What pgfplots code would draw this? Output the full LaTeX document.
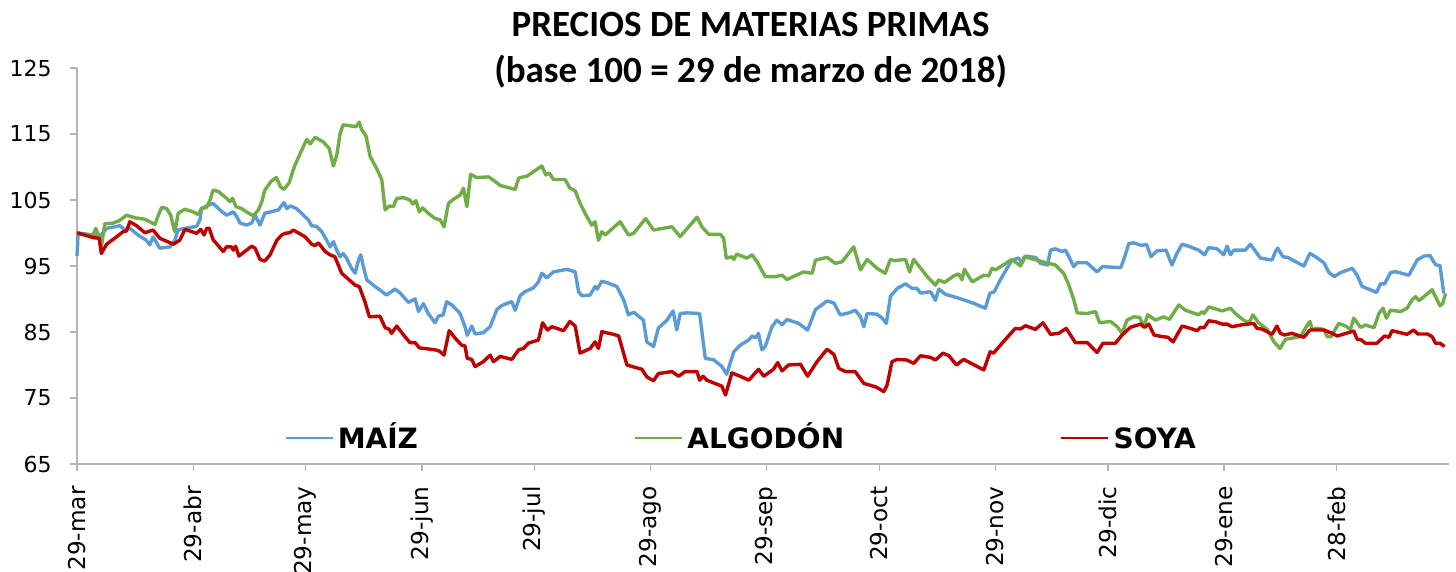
\documentclass[border=0pt]{standalone}
\usepackage{pgfplots}
\usepackage{pgfplotstable}
\pgfplotsset{compat=1.18}
\usepackage{fontspec}
\setmainfont{DejaVu Sans}
\newfontfamily\titlefont{Carlito}
\definecolor{cmaiz}{HTML}{5B9BD5}
\definecolor{calg}{HTML}{70AD47}
\definecolor{csoya}{HTML}{C00000}
\definecolor{caxis}{HTML}{B4B4B4}

\pgfplotstableread{
d v
0 96.5
0.3 100.0
4.3 99.7
6.1 99.4
7.9 100.7
11.4 101.1
12.8 100.5
14.1 100.7
16.3 99.7
18.5 98.9
19.4 98.2
20.3 99.4
22.1 97.7
24.8 97.9
26.1 98.9
27.0 100.5
28.8 100.7
31.9 101.0
32.8 102.0
33.2 103.7
35.0 104.2
36.3 104.5
38.1 103.5
39.9 102.7
41.7 103.2
42.6 102.5
43.5 101.5
45.2 101.2
46.6 101.5
47.5 102.7
48.8 101.2
50.1 103.0
52.4 103.3
53.7 103.5
55.2 104.6
56.0 103.7
56.9 104.1
58.6 103.7
60.4 102.7
61.7 102.0
62.6 101.1
63.9 101.0
65.3 100.2
66.6 98.9
67.5 97.9
68.4 98.7
69.3 97.4
70.2 96.4
71.0 96.9
71.9 96.2
73.3 94.6
74.2 93.9
75.1 95.9
75.7 96.7
76.4 94.9
77.3 92.9
79.5 91.9
82.6 90.6
84.8 91.5
86.2 90.9
88.4 89.5
90.2 90.0
91.1 88.1
92.4 89.3
93.7 87.8
95.5 86.4
96.4 87.4
97.7 87.6
98.6 89.6
100.0 89.1
102.2 87.8
103.5 85.8
104.1 84.5
105.3 85.9
106.2 84.7
108.4 84.9
110.2 85.8
112.0 88.4
113.3 89.0
114.6 89.3
116.0 89.6
116.9 88.3
118.2 90.5
119.5 91.1
121.8 91.7
123.1 92.6
124.0 93.9
125.3 93.2
127.1 94.1
130.7 94.5
132.9 94.1
133.8 91.1
134.7 90.5
136.9 90.6
138.2 91.9
138.8 91.5
140.0 92.7
141.8 92.4
144.0 91.9
145.8 89.9
147.1 87.6
148.5 88.0
151.1 86.8
152.0 83.5
153.8 82.8
155.1 85.6
157.4 86.8
159.0 88.2
160.0 85.3
160.9 87.8
162.7 87.9
166.1 87.8
167.6 81.0
169.8 80.8
172.0 79.8
173.3 78.6
175.2 82.0
176.9 83.0
179.2 83.8
180.1 84.4
181.0 84.1
181.8 84.8
182.7 82.3
183.6 82.8
185.4 85.8
186.7 86.8
188.1 86.1
189.4 86.9
192.5 86.3
194.9 85.3
197.0 88.4
200.1 89.7
201.9 89.4
203.6 87.6
205.9 87.9
207.6 88.3
209.0 87.3
209.9 85.8
210.8 87.8
213.4 87.7
214.8 87.1
215.9 86.3
217.0 90.4
218.8 91.6
221.0 92.3
222.8 91.6
224.1 91.6
225.0 90.9
227.7 91.1
229.0 89.8
229.9 91.5
231.7 90.7
233.9 90.35
236.1 89.95
239.2 89.35
242.3 88.6
243.5 90.85
244.7 91.1
246.3 92.9
249.4 95.9
251.2 96.2
252.1 95.4
253.0 96.5
255.7 96.3
257.0 95.4
258.9 95.15
259.7 97.4
261.0 97.6
262.8 97.2
263.7 97.4
264.6 96.4
265.9 94.9
266.8 95.5
269.4 95.5
272.1 94.1
273.5 94.9
278.4 94.75
279.2 95.9
280.6 98.4
281.9 98.5
284.1 98.1
285.3 98.3
286.5 96.4
288.1 97.3
290.5 97.4
292.1 95.15
293.4 96.9
294.8 98.3
297.0 97.9
299.2 97.4
300.8 96.7
301.9 97.8
304.1 97.6
305.9 96.7
306.8 98.0
307.7 96.7
308.6 97.4
311.7 97.4
313.0 98.3
314.4 97.2
315.7 96.2
318.8 95.9
319.7 97.2
320.3 97.7
321.7 96.4
323.0 96.3
324.6 95.8
327.3 95.0
328.9 96.9
330.4 96.4
332.6 95.5
334.0 94.0
335.4 93.4
337.1 94.0
340.2 94.65
341.5 93.6
342.8 91.9
344.6 91.5
346.7 91.0
347.7 92.3
348.8 92.3
350.4 94.0
351.7 94.15
355.3 93.6
357.5 95.9
359.3 96.5
360.9 96.6
362.4 95.2
363.6 95.05
364.6 90.85
}\maiz

\pgfplotstableread{
d v
0 99.8
4.3 99.7
5.0 100.7
5.6 99.9
6.5 97.9
7.4 101.4
9.6 101.5
11.4 101.9
13.2 102.7
15.4 102.3
18.1 102.1
19.4 101.7
20.8 101.3
21.7 102.7
22.6 103.9
23.9 103.7
25.0 102.7
25.7 101.0
26.1 100.2
27.0 103.0
28.8 103.6
31.0 103.2
32.3 102.8
33.2 103.7
34.6 103.9
35.5 105.0
36.3 106.5
37.7 106.3
39.9 105.25
40.8 104.75
41.5 105.25
42.4 104.0
43.9 103.7
45.2 103.2
47.0 102.6
48.4 103.5
49.3 104.75
50.1 106.5
51.9 107.9
53.2 108.4
54.3 107.0
55.2 106.6
56.6 107.6
58.0 110.1
59.5 112.0
61.3 114.2
62.2 113.5
63.5 114.5
65.7 113.8
67.3 112.8
67.9 111.3
68.4 110.15
69.3 111.8
70.2 115.1
71.0 116.4
73.3 116.2
74.4 116.1
75.3 116.8
75.9 115.7
77.1 114.7
78.2 111.6
79.9 109.8
81.3 108.1
82.2 103.5
83.3 104.1
84.4 104.0
85.3 105.25
87.1 105.35
88.8 105.0
89.6 104.4
90.4 104.9
91.3 103.2
92.2 103.8
93.7 103.0
95.5 102.2
96.9 102.0
97.9 100.95
99.1 104.5
100.4 105.1
102.2 105.75
103.1 106.8
104.0 104.0
105.0 108.9
106.6 108.4
109.8 108.5
111.1 108.0
112.9 107.2
116.9 106.6
117.8 108.3
118.2 108.4
120.0 108.6
124.0 110.15
125.1 108.8
126.0 109.1
127.1 108.1
130.2 108.1
131.5 106.8
132.9 106.4
134.2 104.5
135.8 102.7
137.3 101.2
138.2 101.7
139.1 98.9
140.0 100.2
140.9 99.7
144.9 101.7
147.1 99.7
148.5 99.95
151.7 102.2
153.8 100.45
158.7 100.95
160.9 99.45
165.4 102.4
166.7 100.95
168.5 99.8
171.6 99.8
172.5 99.2
173.2 96.2
174.7 96.4
175.2 96.0
176.0 96.8
178.7 96.2
180.1 96.7
181.4 95.65
183.6 93.4
186.3 93.4
188.1 93.6
189.4 92.95
193.8 94.1
196.1 93.9
197.0 95.9
200.1 96.3
202.3 95.4
204.1 95.65
207.2 97.9
209.0 94.4
210.8 96.0
213.4 94.65
215.6 93.9
217.0 96.0
218.0 95.8
221.0 96.0
222.1 94.1
223.2 96.0
226.8 93.4
229.0 92.1
229.9 92.9
231.4 92.5
233.9 93.5
235.2 93.8
236.1 92.9
236.7 94.5
238.8 92.6
241.9 93.6
243.2 93.5
244.1 94.65
245.0 94.4
249.4 96.0
251.7 95.0
252.7 96.4
257.0 95.75
259.2 95.4
261.0 95.15
263.2 93.9
264.6 92.1
265.9 89.9
266.8 87.9
269.5 87.8
271.7 88.1
272.8 86.4
275.7 86.6
277.5 85.8
278.8 84.8
280.1 86.8
281.9 87.3
283.5 87.2
284.6 85.8
285.6 87.6
287.7 86.8
289.9 87.3
291.4 86.9
293.9 89.1
295.7 88.3
299.2 87.6
300.1 88.1
300.7 87.8
301.9 88.8
305.5 88.2
307.7 88.6
309.0 87.8
311.2 86.8
312.6 86.4
313.7 87.6
315.2 86.4
317.5 85.4
319.3 83.5
320.9 82.5
322.4 83.9
326.4 84.3
328.2 86.06
328.9 86.6
329.5 85.4
330.8 85.55
332.6 85.4
333.5 84.3
334.6 84.3
335.3 85.05
336.6 86.3
338.4 85.9
339.7 85.4
340.6 87.1
341.5 86.4
342.4 85.7
343.7 86.06
346.0 85.65
347.3 87.8
348.4 88.6
349.3 87.1
350.4 88.3
353.1 88.1
354.8 88.6
356.2 89.9
357.1 90.35
358.0 89.75
361.5 91.4
362.4 90.35
363.6 88.95
364.3 89.3
365.1 90.85
}\algodon

\pgfplotstableread{
d v
0 100.0
0.3 100.0
4.3 99.3
5.9 99.2
6.5 96.9
7.9 98.3
10.5 99.4
12.3 100.2
13.2 100.3
14.1 101.7
15.9 101.1
18.1 100.05
20.3 100.45
22.1 99.2
25.7 98.3
27.4 98.9
28.8 100.55
31.9 99.95
33.0 100.55
33.9 99.7
34.6 100.7
35.3 100.7
36.3 99.0
39.0 97.2
39.9 97.9
41.2 97.9
41.7 97.4
42.3 98.0
43.2 96.5
46.6 98.0
47.5 97.7
48.8 96.0
50.1 95.75
51.5 96.7
53.3 98.9
54.6 99.7
55.5 99.95
56.8 100.05
57.7 100.45
60.8 99.45
62.6 98.3
63.5 98.1
64.4 98.5
66.2 97.2
67.5 96.7
68.8 96.4
70.6 93.9
74.2 92.1
75.3 91.9
76.8 89.6
78.0 87.3
80.8 87.4
82.2 85.65
83.3 85.4
83.9 84.8
85.3 85.9
87.1 84.55
88.8 83.4
90.2 83.4
91.3 82.6
95.5 82.3
96.7 82.1
97.9 81.5
99.3 85.2
100.9 84.05
102.6 83.0
103.5 82.9
104.1 81.0
105.3 80.85
106.2 79.75
108.4 80.5
110.2 81.5
111.1 80.5
112.9 81.3
116.0 80.85
117.8 82.3
119.1 82.5
120.4 83.3
123.1 83.8
124.2 86.4
125.5 85.3
126.7 85.8
129.8 85.2
131.5 86.6
132.9 85.9
134.2 81.8
136.9 82.5
138.2 83.5
139.1 82.5
140.0 85.05
143.1 84.65
144.5 84.4
146.7 80.0
150.7 79.35
152.0 78.2
153.8 77.6
155.1 78.7
158.7 79.0
160.5 78.3
162.2 79.0
165.4 79.0
166.1 77.7
167.0 78.3
168.0 77.7
172.0 76.8
173.0 75.45
174.7 78.8
176.9 78.3
179.2 77.7
181.8 79.35
183.2 78.3
185.8 79.35
186.9 80.35
188.1 79.1
189.8 80.0
193.0 80.1
194.9 78.3
197.4 80.5
200.1 82.4
201.9 81.6
203.2 79.5
205.0 79.0
207.6 79.0
209.9 77.2
213.0 76.7
214.3 76.3
215.2 75.95
216.1 76.95
217.4 80.5
218.8 80.85
221.4 80.75
223.2 80.25
225.0 81.4
227.7 81.15
229.0 80.75
231.0 81.8
232.6 81.4
234.6 80.0
236.5 80.85
241.9 79.25
243.6 82.0
244.5 81.8
247.7 83.9
250.3 85.55
251.7 85.45
253.0 85.95
255.7 85.4
257.7 86.4
259.7 84.65
261.9 84.8
263.9 85.55
266.3 83.4
269.5 83.4
272.1 81.9
273.7 83.3
277.0 83.3
278.8 84.55
281.0 85.7
283.7 86.2
284.8 85.7
285.9 86.2
287.3 84.55
289.5 84.3
291.0 84.2
292.4 83.5
294.8 85.9
297.0 85.55
298.8 85.2
299.7 85.7
300.7 85.65
301.9 86.7
303.7 86.55
305.5 86.2
306.8 86.2
308.1 85.8
310.4 86.06
313.9 86.3
314.8 85.55
316.1 85.45
318.8 84.65
320.1 85.9
321.0 84.8
322.1 84.55
324.1 84.8
327.3 84.2
328.9 85.3
332.6 85.3
334.4 84.9
336.2 84.4
340.6 85.15
341.5 83.9
342.6 83.8
343.7 83.3
346.8 83.3
348.8 84.4
350.0 84.2
350.8 85.2
354.8 84.65
356.6 85.3
357.7 84.7
360.2 84.7
361.5 84.3
362.4 83.3
363.6 83.3
364.8 82.8
}\soya

\begin{document}
\begin{tikzpicture}
\begin{axis}[
  scale only axis,
  width=686pt, height=198pt,
  xmin=0, xmax=366,
  ymin=65, ymax=125,
  clip=false,
  axis x line=bottom, axis y line=left,
  axis line style={caxis, line width=0.7pt, -},
  tick style={caxis, line width=0.7pt},
  tick align=outside,
  major tick length=3.5pt,
  xtick={0,31,61,92,122,153,184,214,245,275,306,336},
  xticklabels={29-mar,29-abr,29-may,29-jun,29-jul,29-ago,29-sep,29-oct,29-nov,29-dic,29-ene,28-feb},
  ytick={65,75,85,95,105,115,125},
  /pgf/number format/assume math mode=true,
  xticklabel style={rotate=90, anchor=east, inner sep=0pt, font=\fontsize{11.6}{13}\selectfont},
  xticklabel shift=7.5pt,
  yticklabel style={anchor=east, inner sep=0pt, font=\fontsize{11}{13}\selectfont},
  yticklabel shift=9pt,
  legend columns=3,
  legend image code/.code={\draw[#1, line width=1.2pt] (0pt,0pt) -- (23.5pt,0pt);},
  legend style={at={(rel axis cs:0.1465,0.066)}, anchor=west, draw=none, fill=none,
    font=\bfseries\fontsize{14}{16}\selectfont,
    nodes={text height=10.5pt, text depth=0pt},
    /tikz/every even column/.append style={column sep=106pt}},
]
\addplot[cmaiz, line width=1.7pt, line join=round] table[x=d, y=v] {\maiz};
\addlegendentry{MAÍZ}
\addplot[calg, line width=1.7pt, line join=round] table[x=d, y=v] {\algodon};
\addlegendentry{ALGODÓN}
\addplot[csoya, line width=1.7pt, line join=round] table[x=d, y=v] {\soya};
\addlegendentry{SOYA}
\node[font=\titlefont\bfseries\fontsize{18.5}{23}\selectfont, align=center] at (rel axis cs:0.491,1) [yshift=9pt] {PRECIOS DE MATERIAS PRIMAS\\(base 100 = 29 de marzo de 2018)};
\end{axis}
\pgfresetboundingbox
\path[use as bounding box] (-38.5pt,-54pt) rectangle (689.5pt,232pt);
\end{tikzpicture}
\end{document}
